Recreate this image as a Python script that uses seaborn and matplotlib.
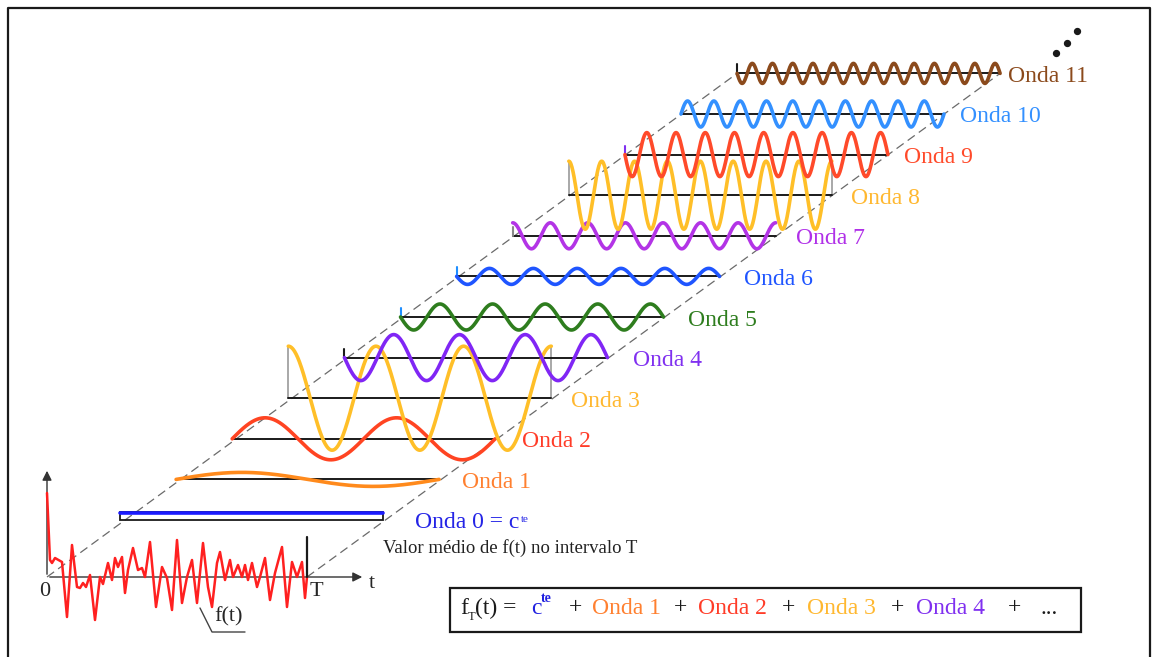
import numpy as np
import pandas as pd
import matplotlib
matplotlib.use("Agg")
import matplotlib.pyplot as plt
import seaborn as sns
from matplotlib.patches import Rectangle

# ---------------- data ----------------
wave_labels = ["Onda 0 = c", "Onda 1", "Onda 2", "Onda 3", "Onda 4", "Onda 5",
               "Onda 6", "Onda 7", "Onda 8", "Onda 9", "Onda 10", "Onda 11"]
wave_cycles = [0, 1, 2, 3, 4, 5, 6, 7, 8, 9, 10, 13]
wave_amp = [0, 7, 21, 52, 23, 13, 8, 13, 34, 22, 13, 10]   # in pixels
wave_shape = ["flat", "sin", "sin", "cos", "-sin", "-sin", "-sin",
              "cos", "cos", "-sin", "sin", "-sin"]
wave_colors = ["#1a1aff", "#ff8a1c", "#ff4422", "#ffbf28", "#8026f5", "#2e7d1e",
               "#1f55ff", "#b334e6", "#ffbf28", "#ff4a2a", "#3390ff", "#8b4a1c"]
label_colors = ["#2424e6", "#ff8030", "#ff3c28", "#ffb830", "#8030f0", "#2e7d1e",
                "#1f55ff", "#b030e8", "#ffb830", "#ff4a2a", "#3390ff", "#8b4a1c"]

# f(t) over one interval T: t (px from origin) and value (px upward)
ft_t = [0, 3, 5, 8, 15, 20, 25, 30, 33, 36, 39, 43, 48, 53, 56, 61, 65, 68, 71, 75,
        78, 81, 86, 91, 95, 98, 103, 109, 115, 120, 125, 130, 135, 140, 145, 150,
        156, 161, 165, 170, 173, 178, 183, 186, 191, 195, 198, 201, 205, 210, 213,
        218, 223, 228, 235, 240, 245, 250, 255, 258, 260]
ft_v = [84, 17, 14, 19, 15, -40, 32, -10, -11, -6, -10, 2, -43, 0, -7, 14, -3, 19, 10, 20,
        -16, 7, 29, 7, 9, 0, 35, -30, 10, -1, -33, 37, -26, 0, 17, -26,
        34, -10, -30, 14, 25, -3, 17, 0, 12, 0, 12, -3, 14, -10, 0,
        19, -23, 4, 30, -30, 15, 0, 15, -21, 0]

formula_parts = ["f", "T", "(t) =", "c", "te", "+", "Onda 1", "+", "Onda 2", "+",
                 "Onda 3", "+", "Onda 4", "+", "..."]
formula_colors = ["k", "k", "k", "#2020e0", "#2020e0", "k", "#ff8030", "k", "#ff3c28",
                  "k", "#ffb830", "k", "#8030f0", "k", "k"]

# ---------------- layout (pixels of the 1162x657 canvas) ----------------
W, H = 1162, 657
ox, oy = 47, 577          # origin of f(t)
T_len = 260
bx0, by0 = 120, 520       # baseline of Onda 0
sx, sy = 56.1, -40.6      # shift from one wave to the next
base_len = 263
label_dx = [32, 23, 27, 20, 26, 24, 24, 20, 19, 16, 16, 8]
formula_x = [460, 468, 475, 531, 541, 569, 592, 674, 698, 782, 807, 891, 916, 1008, 1040]
formula_y = 608

sns.set_theme(style="white")
plt.rcParams["font.family"] = ["Liberation Serif", "DejaVu Serif"]

fig = plt.figure(figsize=(W / 100, H / 100), dpi=100)
ax = fig.add_axes([0, 0, 1, 1])
ax.set_xlim(0, W)
ax.set_ylim(H, 0)
ax.axis("off")

# outer frame
ax.plot([8, 8, 1150, 1150], [H, 8, 8, H], color="k", lw=1.6, solid_capstyle="butt")

# dashed guides
ax.plot([ox, bx0 + 11 * sx], [oy, by0 + 11 * sy], color="#6a6a6a", lw=0.9, ls=(0, (7, 4)))
ax.plot([ox + T_len, bx0 + 11 * sx + base_len], [oy, by0 + 11 * sy],
        color="#6a6a6a", lw=0.9, ls=(0, (7, 4)))

# baselines and waves
rows = []
for k in range(len(wave_labels)):
    x0 = bx0 + k * sx
    y0 = by0 + k * sy
    s = np.linspace(0, 1, 500)
    if wave_shape[k] == "flat":
        f = np.full_like(s, 1.0)
        amp = 7
        ax.add_patch(Rectangle((x0, y0 - 8), base_len, 8, fill=False, ec="k", lw=1.3, zorder=2))
    else:
        ph = 2 * np.pi * wave_cycles[k] * s
        f = {"sin": np.sin(ph), "-sin": -np.sin(ph), "cos": np.cos(ph)}[wave_shape[k]]
        amp = wave_amp[k]
        ax.plot([x0, x0 + base_len], [y0, y0], color="k", lw=1.4, zorder=2)
    rows.append(pd.DataFrame({"x": x0 + s * base_len, "y": y0 - amp * f,
                              "wave": wave_labels[k]}))
    ax.text(x0 + base_len + label_dx[k], y0 + 3, wave_labels[k], color=label_colors[k],
            fontsize=17, ha="left", va="center")

# side marks at the start of some baselines
for k in (3, 8):
    for xx in (bx0 + k * sx, bx0 + k * sx + base_len):
        ax.plot([xx, xx], [by0 + k * sy, by0 + k * sy - wave_amp[k]], color="#9a9a9a", lw=1.2, zorder=1)
for k, c in ((4, "k"), (7, "#888888"), (9, "#8030f0"), (11, "k"), (5, "#1f8fff"), (6, "#1f8fff")):
    xx = bx0 + k * sx
    ax.plot([xx, xx], [by0 + k * sy, by0 + k * sy - 9], color=c, lw=1.5, zorder=3)

waves = pd.concat(rows, ignore_index=True)
sns.lineplot(data=waves, x="x", y="y", hue="wave", palette=dict(zip(wave_labels, wave_colors)),
             estimator=None, sort=False, lw=2.6, legend=False, ax=ax, zorder=4)

# "c^te" of Onda 0
fig.canvas.draw()
bb = ax.texts[0].get_window_extent()
ax.text(bb.x1 + 2, H - bb.y1 + 3, "te", color=label_colors[0], fontsize=8, ha="left", va="top")
ax.text(383, 548, "Valor médio de f(t) no intervalo T", fontsize=13.5, color="#222222",
        ha="left", va="center")

# f(t) and its axes
sns.lineplot(x=[ox + t for t in ft_t], y=[oy - v for v in ft_v], color="#ff2020", lw=1.8,
             estimator=None, sort=False, ax=ax, zorder=5)
ax.annotate("", xy=(ox, 468), xytext=(ox, oy),
            arrowprops=dict(arrowstyle="-|>", color="#333333", lw=1, mutation_scale=14))
ax.annotate("", xy=(365, oy), xytext=(ox, oy),
            arrowprops=dict(arrowstyle="-|>", color="#333333", lw=1, mutation_scale=14))
ax.plot([ox + T_len, ox + T_len], [oy, oy - 40], color="k", lw=1.6, zorder=6)
ax.text(45, 591, "0", fontsize=16, ha="center", va="center")
ax.text(316, 592, "T", fontsize=16, ha="center", va="center")
ax.text(372, 584, "t", fontsize=16, ha="center", va="center")
ax.plot([200, 212, 245], [608, 632, 632], color="#444444", lw=1)
ax.text(229, 617, "f(t)", fontsize=16, ha="center", va="center")

# dots
ax.scatter([1056, 1067, 1077], [53, 43, 31], s=18, color="k")

# formula box
ax.add_patch(Rectangle((450, 588), 631, 44, fill=False, ec="k", lw=1.6))
for txt, c, xx in zip(formula_parts, formula_colors, formula_x):
    size, dy = 17, 0
    if txt == "T":
        size, dy = 9, 9
    elif txt == "te":
        size, dy = 10, -9
    ax.text(xx, formula_y + dy, txt, color=c, fontsize=size, ha="left", va="center",
            fontweight="bold" if txt == "te" else "normal")

fig.savefig("out.png", dpi=100)
